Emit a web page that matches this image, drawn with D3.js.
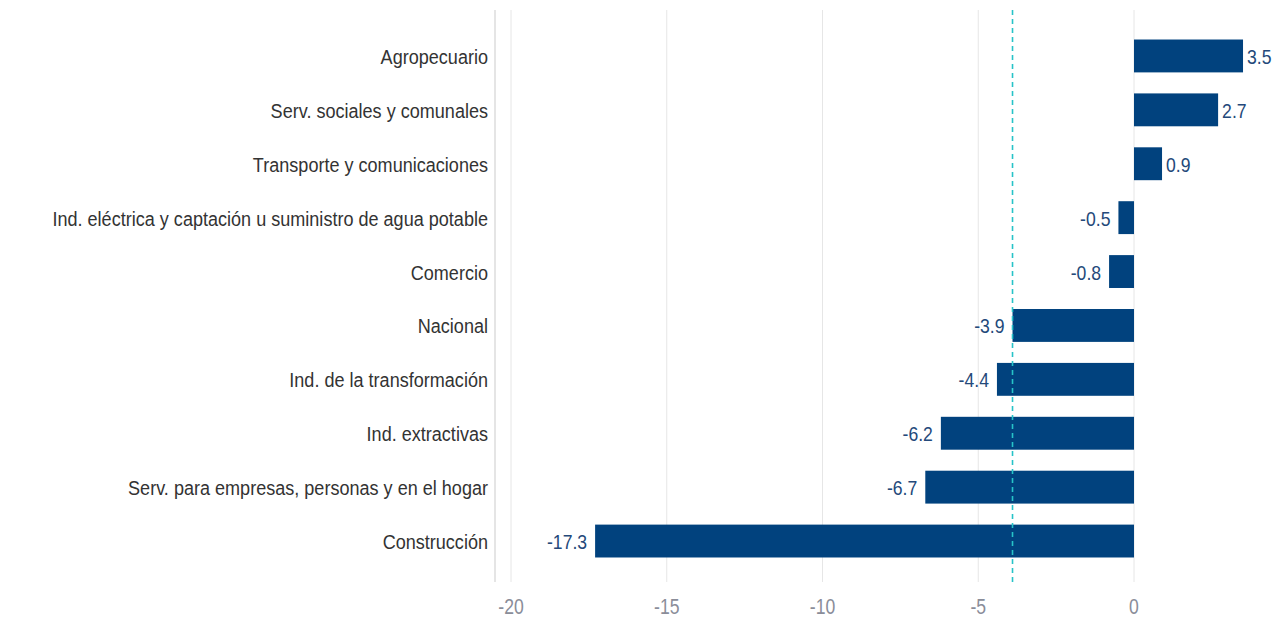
<!DOCTYPE html>
<meta charset="utf-8">
<style>
body { margin: 0; background: white; }
text { font-family: "Liberation Sans Narrow", "Arial Narrow", "Liberation Sans", sans-serif; }
</style>
<body>
<script src="https://d3js.org/d3.v7.min.js"></script>
<script>
var categories = [
    'Agropecuario',
    'Serv. sociales y comunales',
    'Transporte y comunicaciones',
    'Ind. eléctrica y captación u suministro de agua potable',
    'Comercio',
    'Nacional',
    'Ind. de la transformación',
    'Ind. extractivas',
    'Serv. para empresas, personas y en el hogar',
    'Construcción'
]
var values = [3.5, 2.7, 0.9, -0.5, -0.8, -3.9, -4.4, -6.2, -6.7, -17.3]
var ticks = [-20, -15, -10, -5, 0]
var reference = -3.9

var width = 1276
var height = 618

var svg = d3.select('body').append('svg')
    .attr('width', width)
    .attr('height', height)

var x = d3.scaleLinear().domain([-20, 0]).range([511, 1134])
var y = d3.scaleBand().domain(categories).range([29, 568]).paddingInner(0.39).paddingOuter(0.195)

// narrow text: squeeze horizontally
function place(px, py, sx) {
    return 'translate(' + px + ',' + py + ') scale(' + sx + ',1)'
}

// left axis line
svg.append('line')
    .attr('x1', 495).attr('x2', 495)
    .attr('y1', 10).attr('y2', 582)
    .attr('stroke', '#dcdcdc').attr('stroke-width', 1.5)

// grid
svg.selectAll('.grid').data(ticks).enter().append('line')
    .attr('x1', function (d) { return x(d) }).attr('x2', function (d) { return x(d) })
    .attr('y1', 10).attr('y2', 582)
    .attr('stroke', '#e6e6e6').attr('stroke-width', 1)

svg.selectAll('.tick').data(ticks).enter().append('text')
    .attr('transform', function (d) { return place(x(d), 614, 0.8) })
    .attr('text-anchor', 'middle')
    .attr('fill', '#8a8d99')
    .attr('font-size', 22)
    .text(function (d) { return d })

// bars
svg.selectAll('.bar').data(values).enter().append('rect')
    .attr('x', function (d) { return x(Math.min(0, d)) })
    .attr('width', function (d) { return Math.abs(x(d) - x(0)) })
    .attr('y', function (d, i) { return y(categories[i]) })
    .attr('height', y.bandwidth())
    .attr('fill', '#01427e')

// reference line
svg.append('line')
    .attr('x1', x(reference)).attr('x2', x(reference))
    .attr('y1', 10).attr('y2', 585)
    .attr('stroke', '#27c3c8').attr('stroke-width', 1.6)
    .attr('stroke-dasharray', '5,4')

// category labels
svg.selectAll('.cat').data(categories).enter().append('text')
    .attr('transform', function (d) { return place(488, y(d) + y.bandwidth() / 2 + 8, 0.86) })
    .attr('text-anchor', 'end')
    .attr('fill', '#333')
    .attr('font-size', 21)
    .text(function (d) { return d })

// value labels
svg.selectAll('.val').data(values).enter().append('text')
    .attr('transform', function (d, i) {
        var px = d >= 0 ? x(d) + 4 : x(d) - 8
        return place(px, y(categories[i]) + y.bandwidth() / 2 + 8, 0.88)
    })
    .attr('text-anchor', function (d) { return d >= 0 ? 'start' : 'end' })
    .attr('fill', '#24497a')
    .attr('font-size', 20)
    .text(function (d) { return d.toFixed(1) })
</script>
</body>
